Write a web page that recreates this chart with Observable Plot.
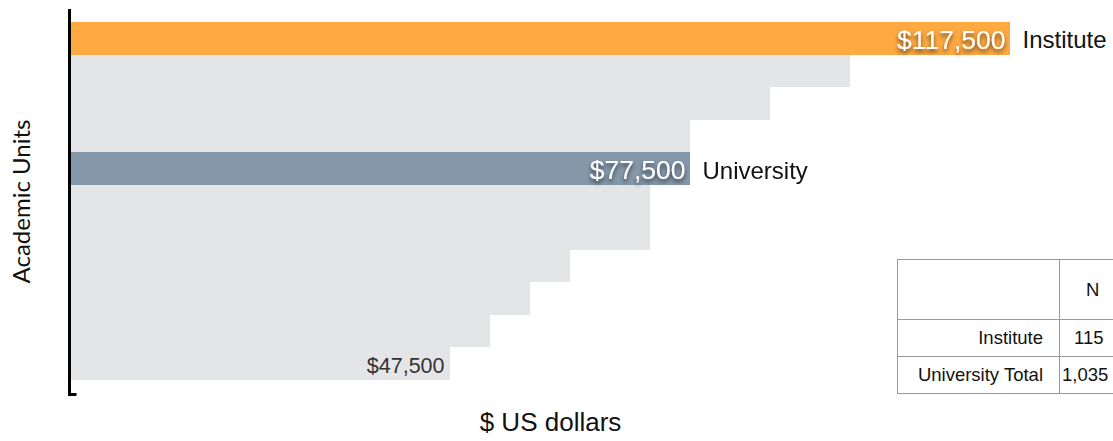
<!DOCTYPE html>
<html>
<head>
<meta charset="utf-8">
<script src="https://cdn.jsdelivr.net/npm/d3@7"></script>
<script src="https://cdn.jsdelivr.net/npm/@observablehq/plot@0.6"></script>
<style>
  html, body { margin: 0; padding: 0; background: #fff; }
  #wrap { position: relative; width: 1113px; height: 441px; overflow: hidden; }
  #tbl { position: absolute; left: 897px; top: 259px; border-collapse: collapse; table-layout: fixed; width: 240px;
         font-family: "Liberation Sans", Arial, sans-serif; font-size: 18.5px; color: #111; }
  #tbl td { border: 1.5px solid #999; padding: 0; white-space: nowrap; overflow: visible; }
  #tbl tr.h td { height: 60px; }
  #tbl tr.r td { height: 37px; }
  #tbl td.lab { width: 162px; text-align: right; padding-right: 16px; box-sizing: border-box; }
  #tbl td.num { width: 78px; text-align: left; padding-left: 14px; box-sizing: border-box; }
  #tbl td.num.first { padding-left: 2px; }
  #tbl td.num.hdr { padding-left: 26px; }
</style>
</head>
<body>
<div id="wrap"></div>
<script>
// ---- data ----
const units  = ["Institute", "Unit A", "Unit B", "Unit C", "University", "Unit D", "Unit E", "Unit F", "Unit G", "Unit H", "Unit I"];
const salary = [117500, 97500, 87500, 77500, 77500, 72500, 72500, 62500, 57500, 52500, 47500];
const roles  = ["institute", "other", "other", "other", "university", "other", "other", "other", "other", "other", "other"];
const names  = ["Institute", "", "", "", "University", "", "", "", "", "", ""];
const tableRows = ["Institute", "University Total"];
const tableN    = ["115", "1,035"];
const tableHeader = "N";

const data = units.map((u, i) => ({unit: u, value: salary[i], role: roles[i], name: names[i]}));
const fmt = d => "$" + d3.format(",")(d);
const highlighted = data.filter(d => d.role !== "other");
const lowest = [data[data.length - 1]];

const plot = Plot.plot({
  width: 1113,
  height: 441,
  marginLeft: 70,
  marginRight: 3,
  marginTop: 22,
  marginBottom: 61,
  style: {fontFamily: "'Liberation Sans', Arial, sans-serif", background: "white"},
  x: {domain: [0, 130000], axis: null},
  y: {domain: units, axis: null, padding: 0, round: false},
  color: {domain: ["institute", "other", "university"], range: ["#FEA942", "#E4E5E7", "#8598AA"]},
  marks: [
    Plot.barX(data, {x: "value", y: "unit", fill: "role", shapeRendering: "crispEdges"}),
    Plot.text(highlighted, {x: "value", y: "unit", text: d => fmt(d.value), textAnchor: "end", dx: -5, dy: 2,
      fill: "white", fontSize: 26.5, ariaDescription: "value-label"}),
    Plot.text(highlighted, {x: "value", y: "unit", text: "name", textAnchor: "start", dx: 12, dy: 2,
      fill: "#111", fontSize: 24}),
    Plot.text(lowest, {x: "value", y: "unit", text: d => fmt(d.value), textAnchor: "end", dx: -6, dy: 2,
      fill: "#333", fontSize: 21.5}),
    Plot.text(["Academic Units"], {frameAnchor: "left", textAnchor: "middle", dx: -48, rotate: -90, text: d => d,
      fontSize: 24, fill: "#111", fontFamily: "Lato, 'Open Sans', sans-serif"}),
    Plot.text(["$ US dollars"], {frameAnchor: "bottom", dx: -40, dy: 50, text: d => d,
      fontSize: 26, fill: "#111"})
  ]
});

document.getElementById("wrap").appendChild(plot);

const svg = d3.select(plot);
// drop shadow for value labels
const defs = svg.append("defs");
defs.append("filter").attr("id", "vshadow").attr("x", "-20%").attr("y", "-40%").attr("width", "140%").attr("height", "200%")
  .append("feDropShadow").attr("dx", 0).attr("dy", 3).attr("stdDeviation", 2)
  .attr("flood-color", "#000").attr("flood-opacity", 0.6);
svg.selectAll('g[aria-description="value-label"]').attr("filter", "url(#vshadow)");

// axis bracket on the left
const xs = plot.scale("x");
const x0 = xs.apply(0) - 0.5;
svg.append("path")
  .attr("d", `M${x0},9 L${x0},394.5 L${x0 + 7},394.5`)
  .attr("fill", "none")
  .attr("stroke", "#000")
  .attr("stroke-width", 3);

// summary table
const tbl = document.createElement("table");
tbl.id = "tbl";
let html = `<tr class="h"><td class="lab"></td><td class="num hdr">${tableHeader}</td></tr>`;
tableRows.forEach((r, i) => {
  html += `<tr class="r"><td class="lab">${r}</td><td class="num${i === 1 ? " first" : ""}">${tableN[i]}</td></tr>`;
});
tbl.innerHTML = html;
document.getElementById("wrap").appendChild(tbl);
</script>
</body>
</html>
